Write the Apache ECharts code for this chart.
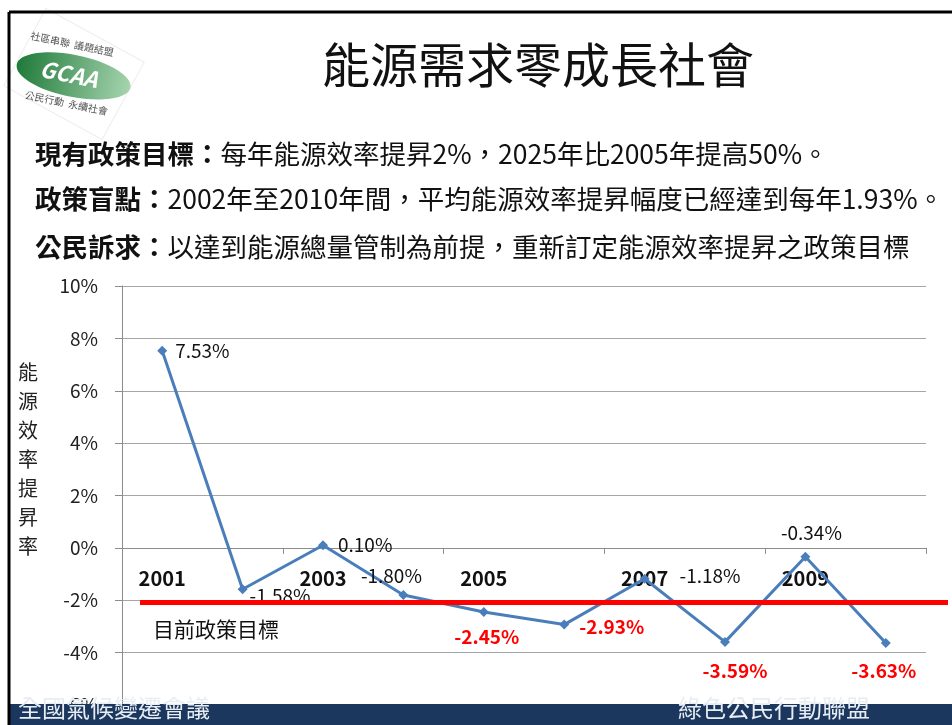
<!DOCTYPE html>
<html lang='zh-Hant'>
<head>
  <meta charset='UTF-8'>
  <title>能源需求零成長社會</title>
  <script src="https://cdn.jsdelivr.net/npm/echarts@6/dist/echarts.min.js"></script>
  <style>
    html, body { margin: 0; padding: 0; background: #fff; }
  </style>
</head>
<body>
<div id="main" style="width: 952px; height: 725px;"></div>
<script>
  const years = ['2001','2002','2003','2004','2005','2006','2007','2008','2009','2010']
  const rates = [7.53, -1.58, 0.10, -1.80, -2.45, -2.93, -1.18, -3.59, -0.34, -3.63]
  const policyTarget = -2.08
  const yTicks = { min: -6, max: 10, interval: 2 }

  const font = '"Noto Sans CJK TC", "Noto Sans", sans-serif'
  const gridTop = 286, gridBottom = 20, chartH = 725

  // where each value label sits around its point
  const labelPlace = [
    { position: 'right', distance: 8 },
    { position: 'right', distance: 2, offset: [0, 7] },
    { position: 'right', distance: 10 },
    { position: 'top', distance: 5, offset: [-12, 0] },
    { position: 'bottom', distance: 10, offset: [3, 0] },
    { position: 'right', distance: 10, offset: [0, 2] },
    { position: 'right', distance: 30, offset: [0, -3] },
    { position: 'bottom', distance: 14, offset: [10, 0] },
    { position: 'top', distance: 9, offset: [6, 0] },
    { position: 'bottom', distance: 13, offset: [-2, 0] }
  ]

  const pointData = rates.map((v, i) => {
    const below = v < policyTarget
    return {
      value: v,
      label: Object.assign({
        show: true,
        formatter: v.toFixed(2) + '%',
        color: below ? '#ff0000' : '#111',
        fontWeight: below ? 'bold' : 'normal',
        fontSize: 19,
        fontFamily: font
      }, labelPlace[i])
    }
  })

  const rich = {
    b: { fontSize: 26.5, fontWeight: 'bold', color: '#111', fontFamily: font },
    n: { fontSize: 26.5, fontWeight: 'normal', color: '#111', fontFamily: font }
  }

  // the category axis crosses the value axis at 0
  const plotH = chartH - gridTop - gridBottom
  const zeroLift = plotH * (0 - yTicks.min) / (yTicks.max - yTicks.min)

  var myChart = echarts.init(document.getElementById('main'))
  var option = {
    backgroundColor: '#fff',
    animation: false,
    title: [
      {
        text: '能源需求零成長社會',
        left: 317, top: 36,
        textStyle: { fontSize: 48, fontWeight: 'normal', color: '#111', fontFamily: font }
      },
      { text: '{b|現有政策目標：}{n|每年能源效率提昇2%，2025年比2005年提高50%。}', left: 30, top: 136, textStyle: { fontWeight: 'normal', rich } },
      { text: '{b|政策盲點：}{n|2002年至2010年間，平均能源效率提昇幅度已經達到每年1.93%。}', left: 30, top: 181, textStyle: { fontWeight: 'normal', rich } },
      { text: '{b|公民訴求：}{n|以達到能源總量管制為前提，重新訂定能源效率提昇之政策目標}', left: 30, top: 229, textStyle: { fontWeight: 'normal', rich } }
    ],
    grid: { left: 122, right: 26, top: gridTop, bottom: gridBottom, containLabel: false, outerBoundsMode: 'none' },
    xAxis: {
      type: 'category',
      data: years,
      boundaryGap: true,
      position: 'bottom',
      offset: -zeroLift,
      axisLine: { onZero: false, lineStyle: { color: '#8c8c8c', width: 1 } },
      axisTick: { show: true, length: 6, lineStyle: { color: '#8c8c8c' } },
      axisLabel: {
        show: true,
        interval: 1,
        margin: 21,
        hideOverlap: false,
        fontSize: 20,
        fontWeight: 'bold',
        color: '#111',
        fontFamily: font
      }
    },
    yAxis: {
      type: 'value',
      min: yTicks.min, max: yTicks.max, interval: yTicks.interval,
      axisLine: { show: true, lineStyle: { color: '#8c8c8c' } },
      axisTick: { show: true, length: 7, lineStyle: { color: '#8c8c8c' } },
      splitLine: { lineStyle: { color: '#a6a6a6', width: 1 } },
      axisLabel: {
        margin: 24,
        fontSize: 19,
        color: '#222',
        fontFamily: font,
        formatter: v => v + '%'
      }
    },
    series: [
      {
        type: 'line',
        data: pointData,
        symbol: 'diamond',
        symbolSize: 10,
        lineStyle: { color: '#4a7ebb', width: 3 },
        itemStyle: { color: '#4a7ebb' },
        z: 3,
        markLine: {
          silent: true,
          symbol: 'none',
          z: 4,
          lineStyle: { color: '#ff0000', width: 5, type: 'solid' },
          label: { show: false },
          data: [[
            { yAxis: policyTarget, x: 140 },
            { yAxis: policyTarget, x: 948 }
          ]]
        }
      }
    ],
    graphic: [
      // slide frame
      { type: 'line', shape: { x1: 9, y1: 12, x2: 952, y2: 12 }, style: { stroke: '#000', lineWidth: 3 }, z: 100 },
      { type: 'line', shape: { x1: 9, y1: 12, x2: 9, y2: 725 }, style: { stroke: '#000', lineWidth: 3 }, z: 100 },
      // y axis name
      {
        type: 'text', left: 18, top: 358,
        style: { text: '能\n源\n效\n率\n提\n昇\n率', lineHeight: 29, fill: '#222', font: '20px ' + font }
      },
      // policy target caption
      {
        type: 'text', left: 153, top: 619,
        style: { text: '目前政策目標', fill: '#111', font: '21px ' + font }
      },
      // logo
      {
        type: 'group', x: 74, y: 74, z: 50,
        children: [
          { type: 'rect', rotation: -0.5, shape: { x: -56, y: -44, width: 112, height: 88 }, style: { fill: '#fff', stroke: '#eeeeee', lineWidth: 1 } },
          {
            type: 'group', rotation: -0.2,
            children: [
              {
                type: 'ellipse', shape: { cx: 0, cy: 2, rx: 58, ry: 21 },
                style: { fill: new echarts.graphic.LinearGradient(0, 0, 1, 0, [
                  { offset: 0, color: '#1f7a3a' }, { offset: 1, color: '#a6d4ae' }
                ]) }
              },
              { type: 'text', x: -34, y: -10, style: { text: 'GCAA', fill: '#fff', font: 'italic bold 22px ' + font } },
              { type: 'text', x: -50, y: -34, style: { text: '社區串聯  議題結盟', fill: '#555', font: '10px ' + font } },
              { type: 'text', x: -44, y: 25, style: { text: '公民行動  永續社會', fill: '#555', font: '10px ' + font } }
            ]
          }
        ]
      },
      // footer band
      { type: 'rect', shape: { x: 10, y: 704, width: 942, height: 21 }, style: { fill: '#1b375e' }, z: 90 },
      { type: 'text', left: 18, top: 696, z: 91, style: { text: '全國氣候變遷會議', fill: '#e8edf3', font: '24px ' + font } },
      { type: 'text', left: 678, top: 696, z: 91, style: { text: '綠色公民行動聯盟', fill: '#e8edf3', font: '24px ' + font } }
    ]
  }
  myChart.setOption(option)
</script>
</body>
</html>
